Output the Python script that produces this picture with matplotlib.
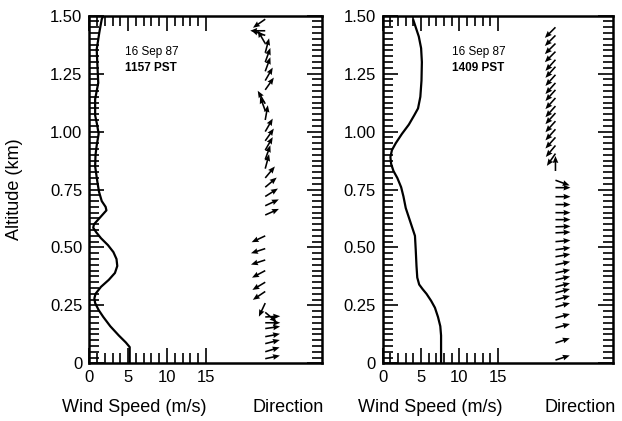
import numpy as np
import matplotlib
matplotlib.use("Agg")
import matplotlib.pyplot as plt
from matplotlib.ticker import FixedLocator

plt.rcParams['font.family'] = ['Liberation Sans', 'DejaVu Sans']

# wind speed profiles (altitude km, speed m/s)
alt_1157 = [0, 0.07, 0.09, 0.12, 0.16, 0.20, 0.23, 0.26, 0.28, 0.30, 0.33,
            0.36, 0.39, 0.42, 0.45, 0.48, 0.51, 0.54, 0.565, 0.585, 0.60,
            0.63, 0.66, 0.675, 0.70, 0.74, 0.78, 0.85, 0.90, 0.94, 0.99,
            1.03, 1.07, 1.14, 1.21, 1.28, 1.355, 1.43, 1.485, 1.50]
spd_1157 = [5.2, 5.2, 4.7, 3.8, 2.7, 1.8, 1.2, 0.75, 0.65, 0.8, 1.5,
            2.5, 3.3, 3.6, 3.5, 3.1, 2.4, 1.5, 0.9, 0.5, 0.6,
            1.4, 2.2, 2.1, 1.6, 1.25, 1.05, 0.75, 0.8, 0.95, 1.2,
            1.0, 0.75, 0.75, 1.15, 1.05, 0.95, 1.3, 1.6, 1.8]

alt_1409 = [0, 0.12, 0.16, 0.20, 0.24, 0.27, 0.30, 0.32, 0.34, 0.37, 0.42,
            0.49, 0.55, 0.58, 0.62, 0.67, 0.72, 0.76, 0.80, 0.83, 0.86,
            0.89, 0.92, 0.95, 0.99, 1.03, 1.07, 1.10, 1.15, 1.22, 1.30,
            1.36, 1.41, 1.45, 1.48]
spd_1409 = [7.6, 7.6, 7.5, 7.2, 6.8, 6.3, 5.7, 5.2, 4.75, 4.5, 4.4,
            4.3, 4.2, 3.9, 3.5, 3.0, 2.7, 2.4, 1.9, 1.4, 1.1,
            1.0, 1.2, 1.7, 2.5, 3.4, 4.1, 4.6, 4.9, 5.05, 5.1,
            5.0, 4.7, 4.3, 4.0]

# wind direction arrows: altitude (km), arrow heading (deg ccw from east)
dir_alt_1157 = [1.485, 1.435, 1.415, 1.38, 1.34, 1.30, 1.26, 1.22, 1.18,
                1.12, 1.09, 1.05, 1.00, 0.96, 0.92, 0.88, 0.84, 0.80, 0.76,
                0.72, 0.68, 0.64, 0.55, 0.495, 0.446, 0.40, 0.35, 0.31,
                0.26, 0.22, 0.20, 0.175, 0.15, 0.115, 0.085, 0.05, 0.02]
dir_ang_1157 = [215, 180, 160, 120, 75, 70, 70, 60, 55,
                120, 110, 80, 60, 55, 60, 70, 75, 50, 40,
                32, 25, 24, 205, 198, 198, 208, 211, 214,
                245, -40, 3, 0, 8, 11, 14, 17, 12]

dir_alt_1409 = [1.45, 1.415, 1.38, 1.345, 1.31, 1.28, 1.245, 1.21, 1.18,
                1.145, 1.11, 1.08, 1.045, 1.01, 0.975, 0.94, 0.905, 0.83,
                0.79, 0.758, 0.719, 0.685, 0.650, 0.620, 0.589, 0.563,
                0.525, 0.490, 0.460, 0.425, 0.390, 0.360, 0.330, 0.304,
                0.274, 0.243, 0.196, 0.153, 0.088, 0.014]
dir_ang_1409 = [225, 225, 225, 225, 228, 228, 228, 228, 228,
                228, 228, 228, 228, 228, 228, 230, 235, 90,
                -20, 0, 0, 0, 0, 0, 2, 3,
                5, 8, 10, 12, 12, 13, 14, 15,
                15, 15, 15, 15, 18, 18]

yticks = [0, 0.25, 0.50, 0.75, 1.00, 1.25, 1.50]
ylabels = ['0', '0.25', '0.50', '0.75', '1.00', '1.25', '1.50']
xticks = [0, 5, 10, 15]

panels = [
    (alt_1157, spd_1157, dir_alt_1157, dir_ang_1157, '1157 PST',
     [0.1436, 0.137, 0.3746, 0.8257], 0.755, 0.155),
    (alt_1409, spd_1409, dir_alt_1409, dir_ang_1409, '1409 PST',
     [0.6153, 0.137, 0.3703, 0.8257], 0.750, 0.30),
]

fig = plt.figure(figsize=(6.22, 4.21), dpi=100)
arrow_len = 15  # pixels

for alt, spd, dalt, dang, stamp, rect, xarr, xtxt in panels:
    ax = fig.add_axes(rect)
    ax.plot(spd, alt, color='black', lw=1.6)
    ax.set_xlim(0, 30)
    ax.set_ylim(0, 1.5)

    # direction column
    a = np.radians(dang)
    u = arrow_len * np.cos(a)
    v = arrow_len * np.sin(a)
    xpos = np.full(len(dalt), xarr * 30)
    ax.quiver(xpos, dalt, u, v, angles='uv', scale_units='inches', scale=100,
              units='inches', width=0.016, headwidth=3.6, headlength=4.4,
              headaxislength=4.0, color='black', pivot='tail')

    ax.yaxis.set_major_locator(FixedLocator(yticks))
    ax.set_yticklabels(ylabels)
    ax.yaxis.set_minor_locator(FixedLocator(np.arange(0, 1.5001, 0.025)))
    ax.xaxis.set_major_locator(FixedLocator(xticks))
    ax.set_xticklabels([str(t) for t in xticks])
    ax.xaxis.set_minor_locator(FixedLocator([t for t in range(1, 15) if t % 5]))
    ax.tick_params(axis='both', which='both', direction='in', width=1.2,
                   top=True, right=True, labelsize=12, pad=5)
    ax.tick_params(axis='both', which='major', length=11)
    ax.tick_params(axis='both', which='minor', length=7)
    for s in ax.spines.values():
        s.set_linewidth(1.8)

    ax.text(xtxt, 0.895, '16 Sep 87', transform=ax.transAxes, fontsize=8.5,
            ha='left', va='center')
    ax.text(xtxt, 0.85, stamp, transform=ax.transAxes, fontsize=8.5,
            fontweight='bold', ha='left', va='center')

fig.text(134 / 622, 13 / 421, 'Wind Speed (m/s)', fontsize=13, ha='center', va='center')
fig.text(288 / 622, 13 / 421, 'Direction', fontsize=13, ha='center', va='center')
fig.text(430 / 622, 13 / 421, 'Wind Speed (m/s)', fontsize=13, ha='center', va='center')
fig.text(580 / 622, 13 / 421, 'Direction', fontsize=13, ha='center', va='center')
fig.text(15 / 622, 232 / 421, 'Altitude (km)', fontsize=13, ha='center',
         va='center', rotation=90)

fig.savefig('out.png', dpi=100)
